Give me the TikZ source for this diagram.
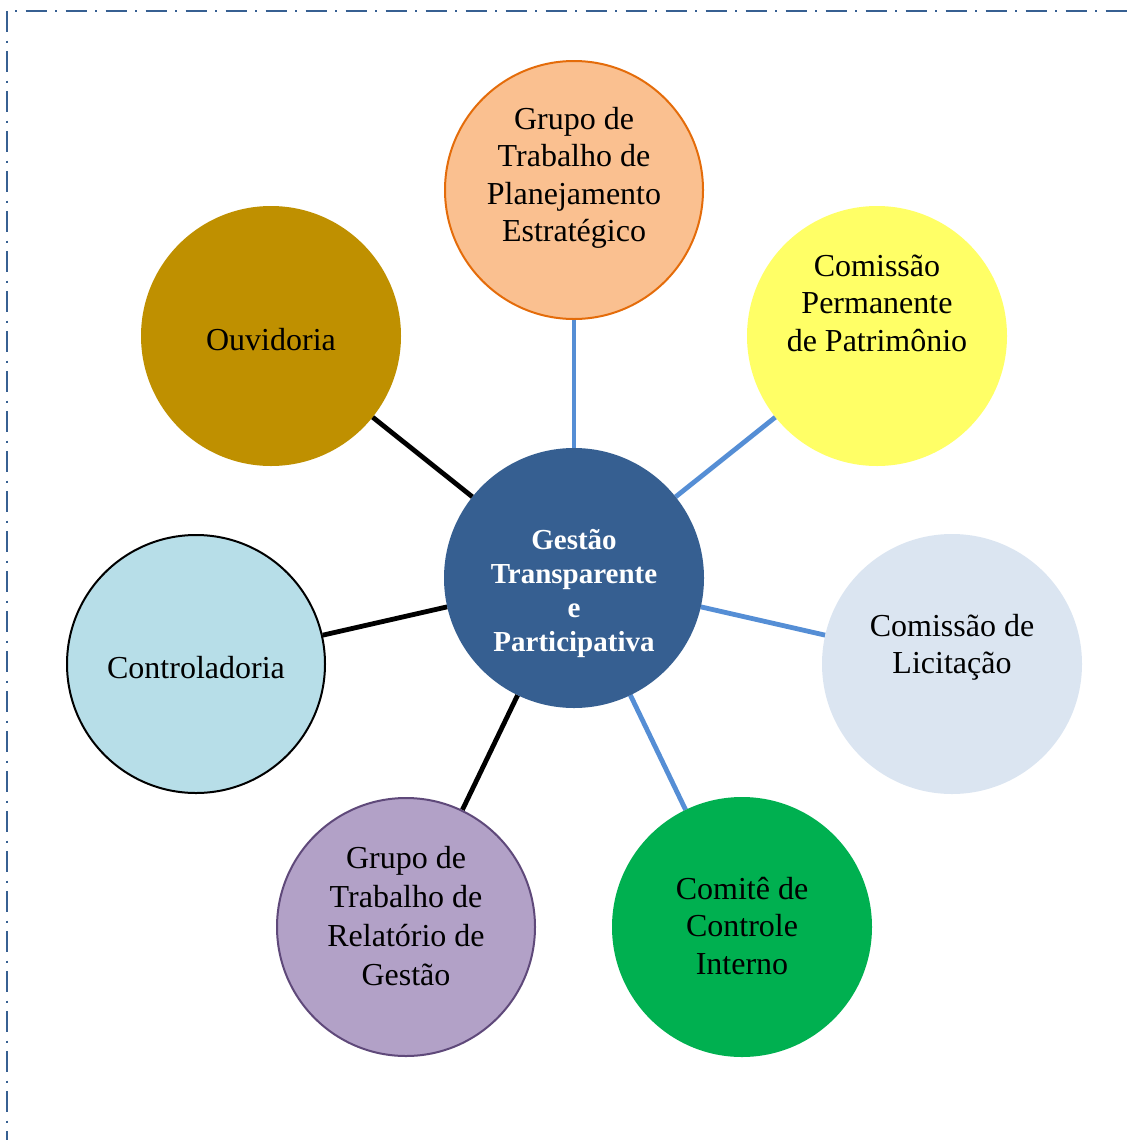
\documentclass[tikz,border=0pt]{standalone}
\usepackage{fontspec}
\setmainfont{Liberation Serif}
\definecolor{framecol}{HTML}{376092}
\definecolor{hubcol}{HTML}{365F91}
\definecolor{linkblue}{HTML}{558ED5}
\definecolor{peach}{HTML}{FAC090}
\definecolor{peachline}{HTML}{E46C0A}
\definecolor{yellowfill}{HTML}{FFFF66}
\definecolor{lightfill}{HTML}{DBE5F1}
\definecolor{greenfill}{HTML}{00B050}
\definecolor{purplefill}{HTML}{B2A1C7}
\definecolor{purpleline}{HTML}{5F497A}
\definecolor{tealfill}{HTML}{B7DEE8}
\definecolor{goldfill}{HTML}{BF9000}
\begin{document}
\begin{tikzpicture}[x=0.5pt,y=-0.5pt,
  bubble/.style={circle,minimum size=130pt,inner sep=0pt,outer sep=0pt},
  txt/.style={align=center,font=\fontsize{16}{18.7}\selectfont,text=black,inner sep=0pt},
  reltxt/.style={align=center,font=\fontsize{16}{19.6}\selectfont,text=black,inner sep=0pt},
  hubtxt/.style={align=center,font=\fontsize{14.5}{17}\selectfont\bfseries,text=white,inner sep=0pt},
  bluelink/.style={draw=linkblue,line width=2.4pt},
  blacklink/.style={draw=black,line width=2.4pt},
  framedash/.style={draw=framecol,line width=1.3pt,dash pattern=on 10.5pt off 4.25pt on 1pt off 4.25pt}
]
\useasboundingbox (0,0) rectangle (1135,1140);
% frame
\coordinate (fc) at (7,11);
\coordinate (fr) at (1135,11);
\coordinate (fb) at (7,1140);
\draw[framedash] (fc) -- (fb);
\draw[framedash,dash phase=10.75pt] (fc) -- (fr);
% circles
\node[bubble] (hub) at (574,578) {};
\node[bubble] (plan) at (574,190) {};
\node[bubble] (pat) at (877,336) {};
\node[bubble] (lic) at (952,664) {};
\node[bubble] (cci) at (742,927) {};
\node[bubble] (rel) at (406,927) {};
\node[bubble] (ctrl) at (196,664) {};
\node[bubble] (ouv) at (271,336) {};
% connectors
\draw[bluelink] (hub) -- (plan);
\draw[bluelink] (hub) -- (pat);
\draw[bluelink] (hub) -- (lic);
\draw[bluelink] (hub) -- (cci);
\draw[blacklink] (hub) -- (rel);
\draw[blacklink] (hub) -- (ctrl);
\draw[blacklink] (hub) -- (ouv);
% filled circles on top
\fill[hubcol] (hub) circle (65pt);
\filldraw[fill=peach,draw=peachline,line width=1pt] (plan) circle (64.5pt);
\fill[yellowfill] (pat) circle (65pt);
\fill[lightfill] (lic) circle (65pt);
\fill[greenfill] (cci) circle (65pt);
\filldraw[fill=purplefill,draw=purpleline,line width=1pt] (rel) circle (64.5pt);
\filldraw[fill=tealfill,draw=black,line width=1pt] (ctrl) circle (64.5pt);
\fill[goldfill] (ouv) circle (65pt);
% texts
\node[hubtxt] (thub) at (574,593) {Gestão\\Transparente\\e\\Participativa};
\node[txt] (tplan) at (574,178) {Grupo de\\Trabalho de\\Planejamento\\Estratégico};
\node[txt] (tpat) at (877,303) {Comissão\\Permanente\\de Patrimônio};
\node[txt] (tlic) at (952,647) {Comissão de\\Licitação};
\node[txt] (tcci) at (742,926) {Comitê de\\Controle\\Interno};
\node[reltxt] (trel) at (406,916) {Grupo de\\Trabalho de\\Relatório de\\Gestão};
\node[txt] (tctrl) at (196,668) {Controladoria};
\node[txt] (touv) at (271,340) {Ouvidoria};
\end{tikzpicture}
\end{document}
